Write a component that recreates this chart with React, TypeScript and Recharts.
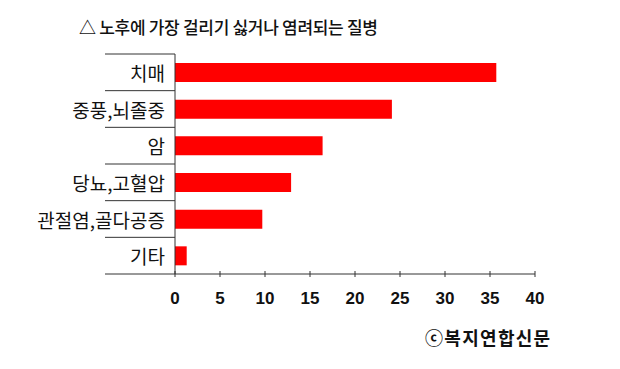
import React from "react";
import { BarChart, Bar, XAxis, YAxis, Cell } from "recharts";

const diseases = ["치매", "중풍,뇌졸중", "암", "당뇨,고혈압", "관절염,골다공증", "기타"];
const shares = [35.7, 24.1, 16.4, 12.9, 9.7, 1.3];
const xTicks = [0, 5, 10, 15, 20, 25, 30, 35, 40];

const data = diseases.map((name, i) => ({ name, value: shares[i] }));

const PLOT_TOP = 54;
const PLOT_BOTTOM = 274;
const BAND = (PLOT_BOTTOM - PLOT_TOP) / diseases.length;
const AXIS_COLOR = "#333";
const KR_FONT = "'Noto Sans CJK KR', 'Noto Sans', sans-serif";

const CategoryTick = (props: any) => {
  const { x, y, payload, index } = props;
  const axisX = x + 10;
  return (
    <g>
      <line x1={axisX - 70} x2={axisX} y1={y - BAND / 2} y2={y - BAND / 2} stroke={AXIS_COLOR} strokeWidth={1} />
      {index === diseases.length - 1 && (
        <line x1={axisX - 70} x2={axisX} y1={y + BAND / 2} y2={y + BAND / 2} stroke={AXIS_COLOR} strokeWidth={1} />
      )}
      <text x={x} y={y} textAnchor="end" dominantBaseline="central" fontSize={19} fill="#111" fontFamily={KR_FONT}>
        {payload.value}
      </text>
    </g>
  );
};

const ValueTick = (props: any) => {
  const { x, y, payload } = props;
  return (
    <g>
      <line x1={x} x2={x} y1={y - 3} y2={y + 3} stroke={AXIS_COLOR} strokeWidth={1} />
      <text x={x} y={y + 24} textAnchor="middle" dominantBaseline="central" fontSize={17} fontWeight="bold" fill="#111" fontFamily="'Liberation Sans', Arial, sans-serif">
        {payload.value}
      </text>
    </g>
  );
};

export default function App() {
  return (
    <div style={{ position: "absolute", left: 0, top: 0, width: 620, height: 369, background: "#fff" }}>
      <div style={{ position: "absolute", left: 79, top: 14, fontSize: 17, letterSpacing: -0.3, fontWeight: 500, fontFamily: KR_FONT, color: "#111", whiteSpace: "nowrap", lineHeight: "26px" }}>
        △ 노후에 가장 걸리기 싫거나 염려되는 질병
      </div>
      <BarChart
        width={620}
        height={369}
        data={data}
        layout="vertical"
        margin={{ top: PLOT_TOP, right: 85, left: 0, bottom: 55 }}
        barCategoryGap={0}
      >
        <XAxis
          type="number"
          domain={[0, 40]}
          ticks={xTicks}
          tickLine={false}
          tickSize={0}
          tickMargin={0}
          height={40}
          stroke={AXIS_COLOR}
          tick={<ValueTick />}
          interval={0}
        />
        <YAxis
          type="category"
          dataKey="name"
          width={175}
          tickLine={false}
          tickSize={0}
          tickMargin={10}
          stroke={AXIS_COLOR}
          tick={<CategoryTick />}
          interval={0}
        />
        <Bar dataKey="value" barSize={19} fill="#ff0000" isAnimationActive={false}>
          {data.map((d) => (
            <Cell key={d.name} fill="#ff0000" />
          ))}
        </Bar>
      </BarChart>
      <div style={{ position: "absolute", left: 425, top: 324, fontSize: 18, letterSpacing: 1.3, fontWeight: "bold", fontFamily: KR_FONT, color: "#111", whiteSpace: "nowrap", lineHeight: "26px" }}>
        ⓒ복지연합신문
      </div>
    </div>
  );
}
